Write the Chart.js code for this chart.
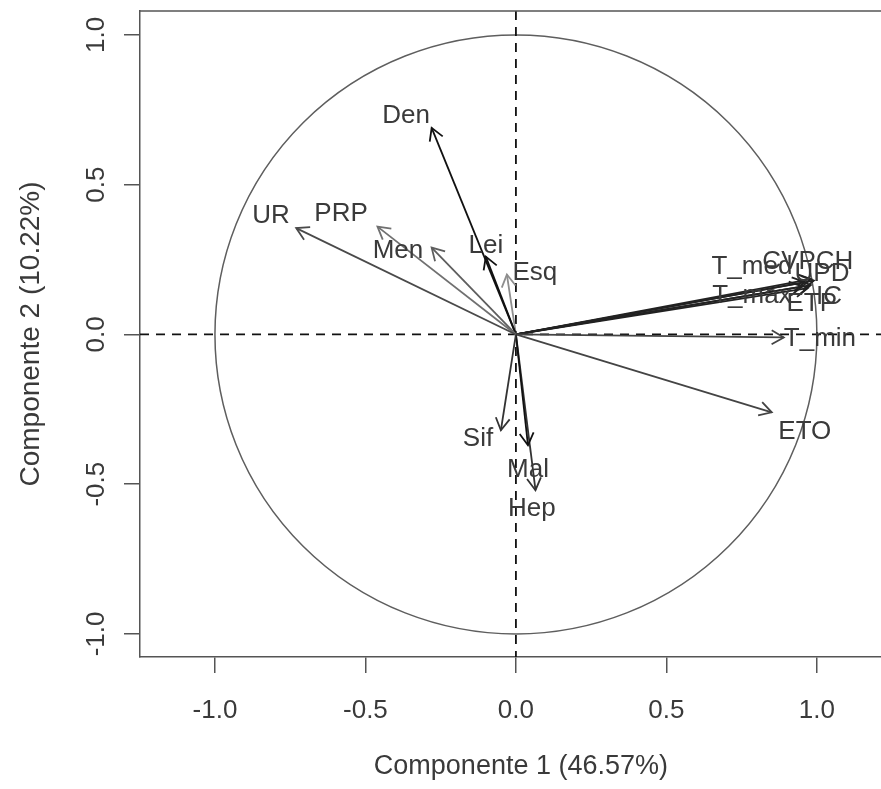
<!DOCTYPE html>
<html>
<head>
<meta charset="utf-8">
<script src="https://cdn.jsdelivr.net/npm/chart.js@4.4.1/dist/chart.umd.min.js"></script>
<style>
  html, body { margin: 0; padding: 0; background: #fff; }
  canvas { display: block; }
</style>
</head>
<body>
<canvas id="pca" width="881" height="789"></canvas>
<script>
// variables of the correlation circle (Dim 1 / Dim 2 loadings)
const variables = ['UR', 'PRP', 'Men', 'Den', 'Lei', 'Esq', 'Sif', 'Mal', 'Hep', 'ETO',
  'T_min', 'T_med', 'T_max', 'CVPCH', 'UPD', 'IC', 'ETP'];
const dim1 = [-0.73, -0.46, -0.28, -0.28, -0.10, -0.03, -0.05, 0.04, 0.065, 0.85,
  0.89, 0.96, 0.95, 0.98, 0.99, 0.98, 0.97];
const dim2 = [0.355, 0.36, 0.29, 0.69, 0.26, 0.20, -0.32, -0.37, -0.52, -0.26,
  -0.01, 0.175, 0.16, 0.185, 0.18, 0.165, 0.155];
// where each name sits (same units as the loadings)
const labelX = [-0.814, -0.581, -0.392, -0.365, -0.10, 0.063, -0.126, 0.04, 0.053, 0.96,
  1.01, 0.784, 0.784, 0.97, 1.017, 1.04, 0.983];
const labelY = [0.395, 0.402, 0.278, 0.729, 0.295, 0.205, -0.35, -0.453, -0.583, -0.326,
  -0.014, 0.225, 0.128, 0.242, 0.202, 0.125, 0.102];
const arrowColors = ['#4a4a4a', '#707070', '#5e5e5e', '#111111', '#111111', '#8e8e8e', '#333333',
  '#111111', '#333333', '#444444', '#444444', '#222222', '#222222', '#222222', '#222222', '#222222', '#222222'];
const xTicks = [-1, -0.5, 0, 0.5, 1];
const yTicks = [-1, -0.5, 0, 0.5, 1];
const xTitle = 'Componente 1 (46.57%)';
const yTitle = 'Componente 2 (10.22%)';

const FONT = '"Liberation Sans", Arial, sans-serif';
const TEXT = '#3a3a3a';

const datasets = variables.map((v, i) => ({
  label: v,
  data: [{ x: 0, y: 0 }, { x: dim1[i], y: dim2[i] }],
  showLine: true,
  borderColor: arrowColors[i],
  borderWidth: 1.8,
  pointRadius: 0,
  pointHoverRadius: 0
}));

const pcaDecor = {
  id: 'pcaDecor',
  beforeDatasetsDraw(chart) {
    const { ctx, chartArea: a, scales: { x, y } } = chart;
    const cx = x.getPixelForValue(0);
    const cy = y.getPixelForValue(0);
    ctx.save();
    ctx.beginPath();
    ctx.rect(a.left, a.top, a.right - a.left, a.bottom - a.top);
    ctx.clip();
    // unit circle
    ctx.strokeStyle = '#5e5e5e';
    ctx.lineWidth = 1.5;
    ctx.beginPath();
    ctx.ellipse(cx, cy, x.getPixelForValue(1) - cx, cy - y.getPixelForValue(1), 0, 0, Math.PI * 2);
    ctx.stroke();
    // dashed zero lines
    ctx.setLineDash([9, 7]);
    ctx.strokeStyle = '#111';
    ctx.lineWidth = 1.8;
    ctx.beginPath();
    ctx.moveTo(cx, a.top);
    ctx.lineTo(cx, a.bottom);
    ctx.moveTo(a.left, cy);
    ctx.lineTo(a.right, cy);
    ctx.stroke();
    ctx.restore();
  },
  afterDatasetsDraw(chart) {
    const { ctx } = chart;
    ctx.save();
    chart.data.datasets.forEach((ds, i) => {
      const pts = chart.getDatasetMeta(i).data;
      const p0 = pts[0], p1 = pts[1];
      const ang = Math.atan2(p1.y - p0.y, p1.x - p0.x);
      const len = 14;
      ctx.strokeStyle = ds.borderColor;
      ctx.lineWidth = 1.8;
      ctx.beginPath();
      ctx.moveTo(p1.x - len * Math.cos(ang - Math.PI / 6), p1.y - len * Math.sin(ang - Math.PI / 6));
      ctx.lineTo(p1.x, p1.y);
      ctx.lineTo(p1.x - len * Math.cos(ang + Math.PI / 6), p1.y - len * Math.sin(ang + Math.PI / 6));
      ctx.stroke();
    });
    ctx.restore();
  },
  afterDraw(chart) {
    const { ctx, chartArea: a, scales: { x, y } } = chart;
    ctx.save();
    // top edge of the box
    ctx.strokeStyle = '#555';
    ctx.lineWidth = 1.5;
    ctx.beginPath();
    ctx.moveTo(a.left, a.top);
    ctx.lineTo(a.right, a.top);
    ctx.stroke();
    // variable names
    ctx.fillStyle = TEXT;
    ctx.font = '26px ' + FONT;
    ctx.textAlign = 'center';
    ctx.textBaseline = 'middle';
    variables.forEach((v, i) => {
      ctx.fillText(v, x.getPixelForValue(labelX[i]), y.getPixelForValue(labelY[i]));
    });
    // y tick labels, parallel to the axis
    yTicks.forEach(t => {
      ctx.save();
      ctx.translate(97, y.getPixelForValue(t));
      ctx.rotate(-Math.PI / 2);
      ctx.fillText(t.toFixed(1), 0, 0);
      ctx.restore();
    });
    // x axis title, centred on the full plot region (box runs past the right edge)
    ctx.font = '27px ' + FONT;
    ctx.fillText(xTitle, x.getPixelForValue(0) + 5, 767);
    ctx.restore();
  }
};

new Chart(document.getElementById('pca'), {
  type: 'scatter',
  data: { datasets },
  options: {
    responsive: false,
    animation: false,
    events: [],
    layout: { padding: { top: 11, right: 0, bottom: 0, left: 0 } },
    plugins: {
      legend: { display: false },
      tooltip: { enabled: false }
    },
    scales: {
      x: {
        type: 'linear',
        min: -1.249,
        max: 1.213,
        afterBuildTicks: s => { s.ticks = xTicks.map(v => ({ value: v })); },
        afterFit: s => { s.height = 132; },
        grid: { display: true, drawOnChartArea: false, drawTicks: true, tickLength: 16, color: '#555', lineWidth: 1.5 },
        border: { display: true, color: '#555', width: 1.5 },
        ticks: {
          color: TEXT,
          font: { family: FONT, size: 26 },
          padding: 22,
          maxRotation: 0,
          callback: v => Number(v).toFixed(1)
        },
        title: { display: false, text: xTitle }
      },
      y: {
        type: 'linear',
        min: -1.077,
        max: 1.080,
        afterBuildTicks: s => { s.ticks = yTicks.map(v => ({ value: v })); },
        afterFit: s => { s.width = 140; },
        grid: { display: true, drawOnChartArea: false, drawTicks: true, tickLength: 16, color: '#555', lineWidth: 1.5 },
        border: { display: true, color: '#555', width: 1.5 },
        ticks: { display: false },
        title: {
          display: true,
          text: yTitle,
          color: TEXT,
          font: { family: FONT, size: 28 },
          padding: { top: 14, bottom: 0 }
        }
      }
    }
  },
  plugins: [pcaDecor]
});
</script>
</body>
</html>
